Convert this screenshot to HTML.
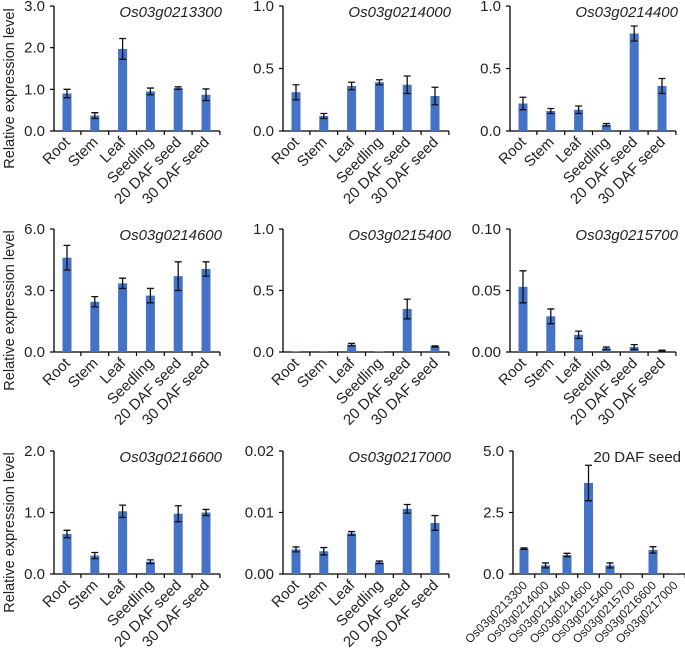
<!DOCTYPE html>
<html><head><meta charset="utf-8"><style>
html,body{margin:0;padding:0;background:#fff;}
svg{display:block;font-family:"Liberation Sans",Arial,sans-serif;}
</style></head><body>
<svg id="chart" width="685" height="653" viewBox="0 0 685 653"></svg>
<script>
const tissues = ["Root","Stem","Leaf","Seedling","20 DAF seed","30 DAF seed"];
const genes = ["Os03g0213300","Os03g0214000","Os03g0214400","Os03g0214600","Os03g0215400","Os03g0215700","Os03g0216600","Os03g0217000"];
const v1 = [0.9,0.37,1.97,0.95,1.03,0.87];      const e1 = [0.1,0.07,0.25,0.08,0.03,0.14];
const v2 = [0.31,0.12,0.36,0.39,0.37,0.28];     const e2 = [0.06,0.02,0.03,0.02,0.07,0.07];
const v3 = [0.22,0.16,0.17,0.05,0.78,0.36];     const e3 = [0.05,0.02,0.03,0.01,0.06,0.06];
const v4 = [4.6,2.45,3.35,2.75,3.7,4.05];       const e4 = [0.6,0.25,0.25,0.35,0.7,0.35];
const v5 = [0.005,0.003,0.06,0.005,0.35,0.045]; const e5 = [0,0,0.01,0,0.08,0.005];
const v6 = [0.053,0.029,0.014,0.003,0.004,0.001]; const e6 = [0.013,0.006,0.003,0.001,0.002,0.0005];
const v7 = [0.65,0.3,1.02,0.2,0.98,1.0];        const e7 = [0.06,0.05,0.1,0.03,0.13,0.05];
const v8 = [0.004,0.0037,0.0066,0.0019,0.0106,0.0083]; const e8 = [0.0004,0.0006,0.0003,0.0002,0.0007,0.0012];
const v9 = [1.03,0.35,0.77,3.7,0.35,0.004,0.98,0.011]; const e9 = [0.03,0.1,0.07,0.72,0.1,0,0.13,0];
const ticks1 = ["0.0","1.0","2.0","3.0"];
const ticks2 = ["0.0","0.5","1.0"];
const ticks4 = ["0.0","3.0","6.0"];
const ticks6 = ["0.00","0.05","0.10"];
const ticks7 = ["0.0","1.0","2.0"];
const ticks8 = ["0.00","0.01","0.02"];
const ticks9 = ["0.0","2.5","5.0"];

const NS="http://www.w3.org/2000/svg";
const svg=document.getElementById('chart');
function mk(tag,attrs,parent){const el=document.createElementNS(NS,tag);for(const k in attrs)el.setAttribute(k,attrs[k]);(parent||svg).appendChild(el);return el;}

function panel(id,ax,top,base,title,italic,cats,vals,errs,ticks,sp,catFont,firstOff){
  const g=mk('g',{});
  
  
  const max=parseFloat(ticks[ticks.length-1]);
  const y=v=>base-(v/max)*(base-top);
  const x=i=>ax+firstOff+i*sp;
  const right=ax+firstOff+(cats.length-0.5)*sp;
  const axl=mk('path',{d:`M${ax},${top} V${base} H${right}`,stroke:'#000','stroke-width':1.3,fill:'none'},g);
  
  
  ticks.forEach(t=>{
    const ty=y(parseFloat(t));
    mk('line',{x1:ax-4,x2:ax,y1:ty,y2:ty,stroke:'#000','stroke-width':1.2},g);
    const tl=mk('text',{x:ax-9,y:ty+5,'text-anchor':'end','font-size':15,fill:'#222'},g);
    tl.textContent=t;
    
    
  });
  for(let i=1;i<=cats.length;i++){const tx=ax+firstOff+(i-0.5)*sp; mk('line',{x1:tx,x2:tx,y1:base,y2:base+4,stroke:'#000','stroke-width':1.2},g);}
  cats.forEach((c,i)=>{
    const cx=x(i);
    const b=mk('rect',{x:cx-4.5,y:y(vals[i]),width:9,height:base-y(vals[i]),fill:'#4472c4'},g);
    
    
    if(errs[i]>0){
      const t=y(vals[i]+errs[i]),bt=y(Math.max(0,vals[i]-errs[i]));
      const eb=mk('path',{d:`M${cx},${t}V${bt}M${cx-3.5},${t}H${cx+3.5}M${cx-3.5},${bt}H${cx+3.5}`,stroke:'#111','stroke-width':1.3,fill:'none'},g);
      
      
    }
    const lx=cx+4,ly=base+12;
    const cl=mk('text',{x:lx,y:ly,'text-anchor':'end','font-size':catFont,fill:'#222',transform:`rotate(-45 ${lx} ${ly})`},g);
    cl.textContent=c;
    
    
  });
  const tt=mk('text',{x:ax+168,y:top+11,'text-anchor':'end','font-size':15,'font-style':italic?'italic':'normal',fill:'#222'},g);
  tt.textContent=title;
  
  
}
const rows=[[6,131],[229,352],[451,574]];
const cols=[54,283,510];
panel('panel-os03g0213300',cols[0],6,131,'Os03g0213300',true,tissues,v1,e1,ticks1,27.8,15,13);
panel('panel-os03g0214000',cols[1],6,131,'Os03g0214000',true,tissues,v2,e2,ticks2,27.8,15,13);
panel('panel-os03g0214400',cols[2],6,131,'Os03g0214400',true,tissues,v3,e3,ticks2,27.8,15,13);
panel('panel-os03g0214600',cols[0],229,352,'Os03g0214600',true,tissues,v4,e4,ticks4,27.8,15,13);
panel('panel-os03g0215400',cols[1],229,352,'Os03g0215400',true,tissues,v5,e5,ticks2,27.8,15,13);
panel('panel-os03g0215700',cols[2],229,352,'Os03g0215700',true,tissues,v6,e6,ticks6,27.8,15,13);
panel('panel-os03g0216600',cols[0],451,574,'Os03g0216600',true,tissues,v7,e7,ticks7,27.8,15,13);
panel('panel-os03g0217000',cols[1],451,574,'Os03g0217000',true,tissues,v8,e8,ticks8,27.8,15,13);
panel('panel-20-daf-seed',513,451,574,'20 DAF seed',false,genes,v9,e9,ticks9,21.5,12,11);
rows.forEach(r=>{
  const cy=(r[0]+r[1])/2+20;
  const t=mk('text',{x:14,y:cy,'text-anchor':'middle','font-size':14.5,fill:'#222',transform:`rotate(-90 14 ${cy})`});
  t.textContent='Relative expression level';
  
  
});
</script>
</body></html>
